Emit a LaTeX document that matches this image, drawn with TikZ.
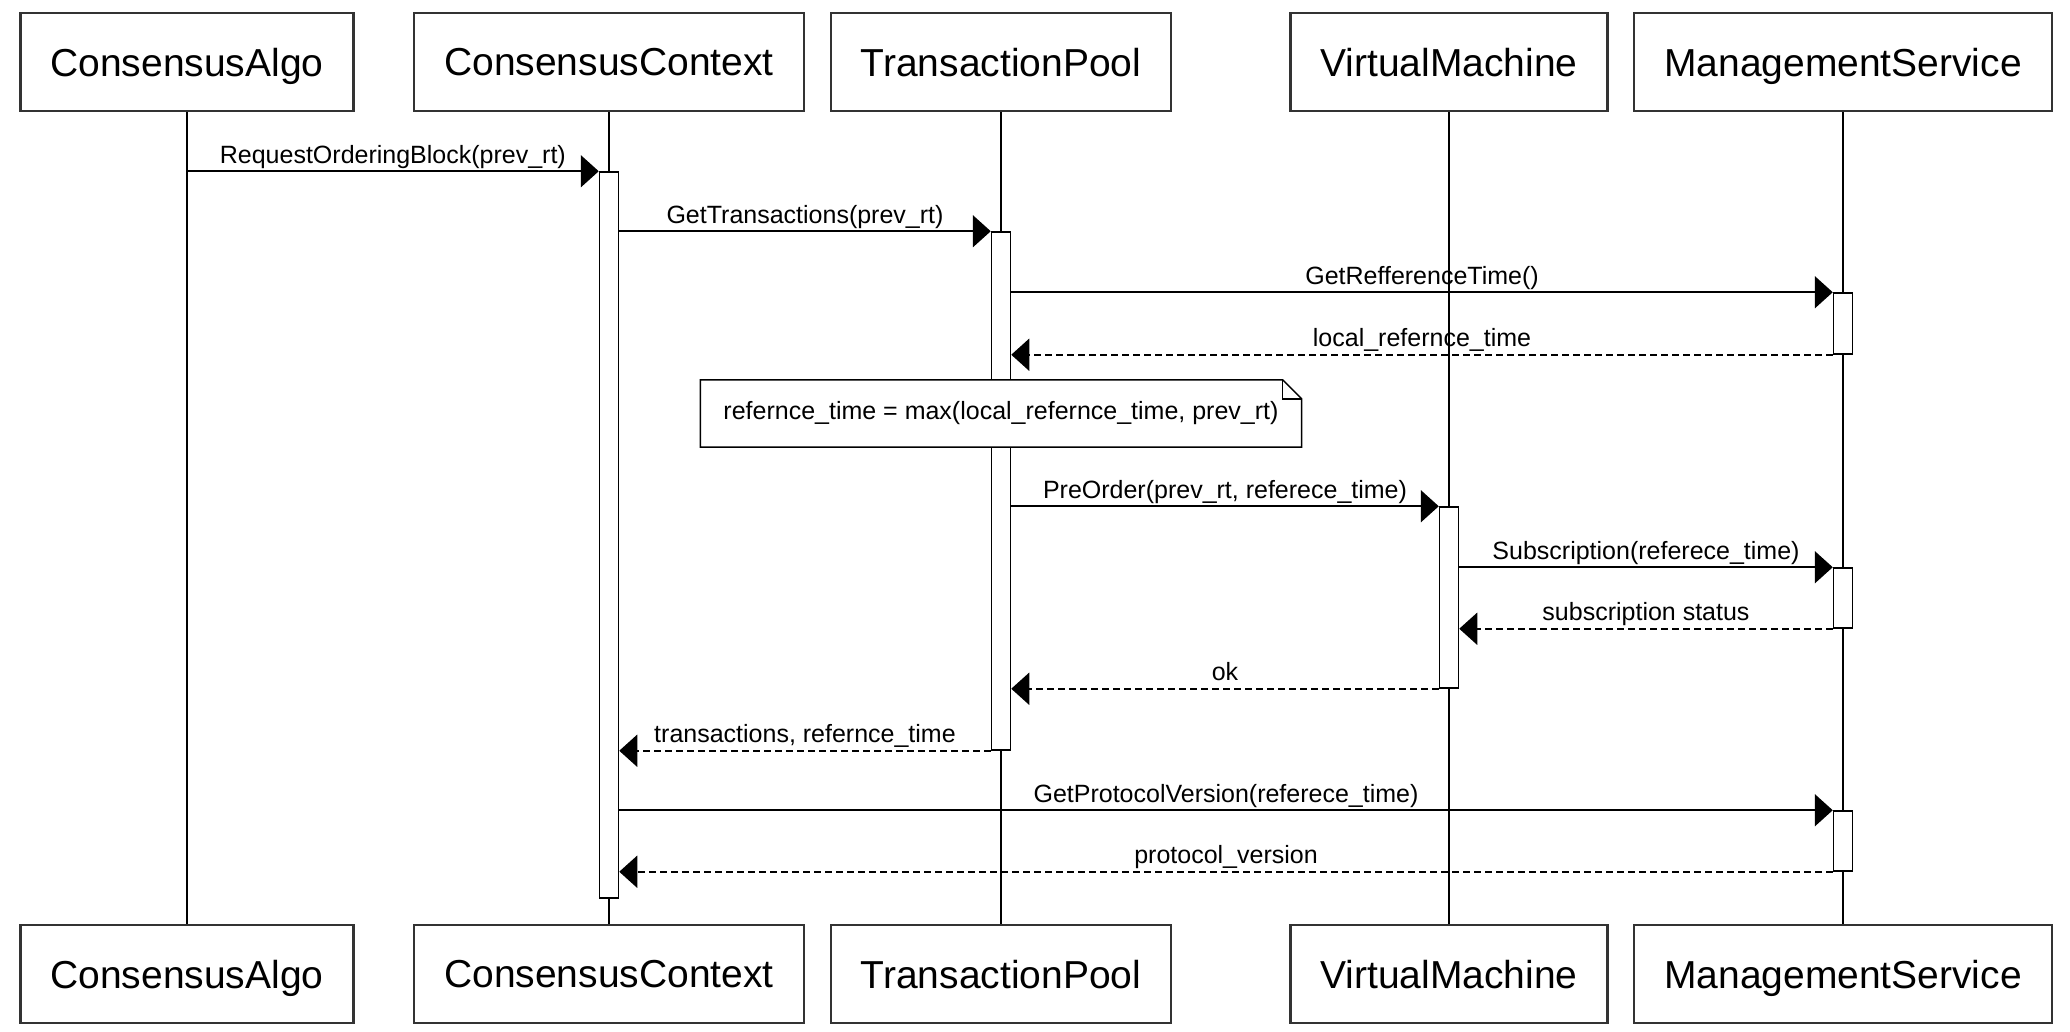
\documentclass[tikz,border=0pt]{standalone}
\usepackage{fontspec}
\setmainfont{Liberation Sans}
\usetikzlibrary{arrows.meta}

\begin{document}
\begin{tikzpicture}
[
	x=1pt,y=-1pt,
	actor/.style={rectangle,draw=black!80,line width=2.5pt,fill=white,minimum height=98pt,inner xsep=30pt,text depth=0pt,font=\fontsize{39}{45}\selectfont},
	actbar/.style={rectangle,draw,line width=1.5pt,fill=white,minimum width=19pt,inner sep=0pt},
	call/.style={line width=2pt,-{Triangle[length=18pt,width=32pt]}},
	reply/.style={call,dash pattern=on 7pt off 4pt},
	lbl/.style={anchor=base,inner sep=0pt,font=\fontsize{25}{30}\selectfont},
	lifeline/.style={line width=1.5pt}
]
	\useasboundingbox (0,0) rectangle (2070,1032);

	% participants, top and bottom
	\node[actor] at (187,62) (algo) {ConsensusAlgo};
	\node[actor] at (609,62) (ctx) {ConsensusContext};
	\node[actor] at (1001,62) (pool) {TransactionPool};
	\node[actor] at (1449,62) (vm) {VirtualMachine};
	\node[actor] at (1843,62) (mgmt) {ManagementService};

	\node[actor] at (187,974) (algoB) {ConsensusAlgo};
	\node[actor] at (609,974) (ctxB) {ConsensusContext};
	\node[actor] at (1001,974) (poolB) {TransactionPool};
	\node[actor] at (1449,974) (vmB) {VirtualMachine};
	\node[actor] at (1843,974) (mgmtB) {ManagementService};

	\draw[lifeline] (algo) -- (algoB);
	\draw[lifeline] (ctx) -- (ctxB);
	\draw[lifeline] (pool) -- (poolB);
	\draw[lifeline] (vm) -- (vmB);
	\draw[lifeline] (mgmt) -- (mgmtB);

	% activations
	\node[actbar,minimum height=726pt] at (609,535) (ctxAct) {};
	\node[actbar,minimum height=518pt] at (1001,491) (poolAct) {};
	\node[actbar,minimum height=61pt] at (1843,323.5) (mgmtActA) {};
	\node[actbar,minimum height=181pt] at (1449,597.5) (vmAct) {};
	\node[actbar,minimum height=60pt] at (1843,598) (mgmtActB) {};
	\node[actbar,minimum height=60pt] at (1843,841) (mgmtActC) {};

	% messages
	\draw[call] (algo.south |- ctxAct.north) -- node[lbl,midway,yshift=8pt] {RequestOrderingBlock(prev\_rt)} (ctxAct.north west);
	\draw[call] (ctxAct.east |- poolAct.north) -- node[lbl,midway,yshift=8pt] {GetTransactions(prev\_rt)} (poolAct.north west);
	\draw[call] (poolAct.east |- mgmtActA.north) -- node[lbl,midway,yshift=8pt] {GetRefferenceTime()} (mgmtActA.north west);
	\draw[reply] (mgmtActA.south west) -- node[lbl,midway,yshift=8pt] {local\_refernce\_time} (poolAct.east |- mgmtActA.south);

	\node[fill=white,minimum width=601pt,minimum height=67pt,inner sep=0pt,font=\fontsize{25}{30}\selectfont] at (1001,413.5) (note) {refernce\_time = max(local\_refernce\_time, prev\_rt)};
	\draw[line width=1.5pt] (note.south west) -- (note.north west) -- ([xshift=-19pt]note.north east) -- ([yshift=-19pt]note.north east) -- (note.south east) -- cycle;
	\draw[line width=1.5pt] ([xshift=-19pt]note.north east) |- ([yshift=-19pt]note.north east);

	\draw[call] (poolAct.east |- vmAct.north) -- node[lbl,midway,yshift=8pt] {PreOrder(prev\_rt, referece\_time)} (vmAct.north west);
	\draw[call] (vmAct.east |- mgmtActB.north) -- node[lbl,midway,yshift=8pt] {Subscription(referece\_time)} (mgmtActB.north west);
	\draw[reply] (mgmtActB.south west) -- node[lbl,midway,yshift=8pt] {subscription status} (vmAct.east |- mgmtActB.south);
	\draw[reply] (vmAct.south west) -- node[lbl,midway,yshift=8pt] {ok} (poolAct.east |- vmAct.south);
	\draw[reply] (poolAct.south west) -- node[lbl,midway,yshift=8pt] {transactions, refernce\_time} (ctxAct.east |- poolAct.south);
	\draw[call] (ctxAct.east |- mgmtActC.north) -- node[lbl,midway,yshift=8pt] {GetProtocolVersion(referece\_time)} (mgmtActC.north west);
	\draw[reply] (mgmtActC.south west) -- node[lbl,midway,yshift=8pt] {protocol\_version} (ctxAct.east |- mgmtActC.south);

\end{tikzpicture}
\end{document}
